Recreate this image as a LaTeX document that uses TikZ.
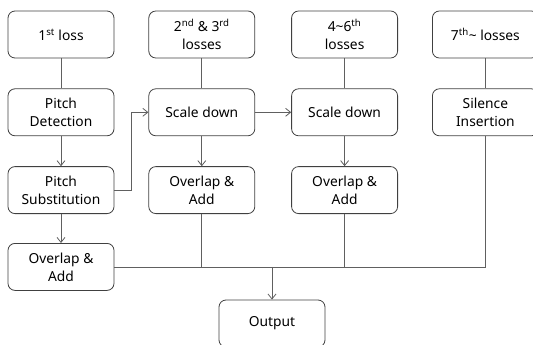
\documentclass[tikz,border=0pt]{standalone}
\usepackage{fontspec}
\setmainfont{Noto Sans}
\usetikzlibrary{positioning, arrows.meta}
\definecolor{linegray}{HTML}{606060}
\definecolor{boxgray}{HTML}{404040}
\tikzset{
    x=1pt, y=1pt,
    >={Straight Barb[length=5pt,width=8pt]}, % thin open arrow heads
    node distance=30pt and 34pt, % vertical and horizontal gaps between boxes
    block/.style={draw=boxgray, line width=0.8pt, rounded corners=7pt, minimum width=106pt, minimum height=47pt,
        align=center, font=\fontsize{13.8}{18}\selectfont, inner sep=2pt},
    link/.style={draw=linegray, line width=0.8pt},
}
\begin{document}
\begin{tikzpicture}
\useasboundingbox (0,0) rectangle (533,-345);
% column of the first loss
\node[block] at (61,-34.5)      (loss1) {1\textsuperscript{st} loss};
\node[block, below=of loss1]    (pdet)  {Pitch\\Detection};
\node[block, below=of pdet]     (psub)  {Pitch\\Substitution};
\node[block, below=29pt of psub] (ola1) {Overlap \&\\Add};
% column of the 2nd and 3rd losses
\node[block, right=of loss1]    (loss2) {2\textsuperscript{nd} \& 3\textsuperscript{rd}\\losses};
\node[block, below=of loss2]    (scl2)  {Scale down};
\node[block, below=of scl2]     (ola2)  {Overlap \&\\Add};
% column of the 4th to 6th losses
\node[block, right=36pt of loss2] (loss4) {4\textasciitilde6\textsuperscript{th}\\losses};
\node[block, below=of loss4]    (scl4)  {Scale down};
\node[block, below=of scl4]     (ola4)  {Overlap \&\\Add};
% column of the later losses
\node[block, right=of loss4]    (loss7) {7\textsuperscript{th}\textasciitilde{} losses};
\node[block, below=of loss7]    (sil)   {Silence\\Insertion};
% output
\node[block] at (272,-323.5)    (out)   {Output};
\coordinate (turn) at ([xshift=17pt]psub.east);

\draw[link] (loss1) -- (pdet);
\draw[link, ->] (pdet) -- (psub);
\draw[link, ->] (psub) -- (ola1);
\draw[link, ->] (psub.east) -- (turn) |- (scl2.west);
\draw[link] (loss2) -- (scl2);
\draw[link, ->] (scl2) -- (ola2);
\draw[link, ->] (scl2) -- (scl4);
\draw[link] (loss4) -- (scl4);
\draw[link, ->] (scl4) -- (ola4);
\draw[link] (loss7) -- (sil);
\draw[link] (ola1.east) -- (ola1.east -| sil.south) -- (sil.south);
\draw[link] (ola2.south) -- (ola2.south |- ola1.east);
\draw[link] (ola4.south) -- (ola4.south |- ola1.east);
\draw[link, ->] (ola1.east -| out.north) -- (out.north);
\end{tikzpicture}
\end{document}
